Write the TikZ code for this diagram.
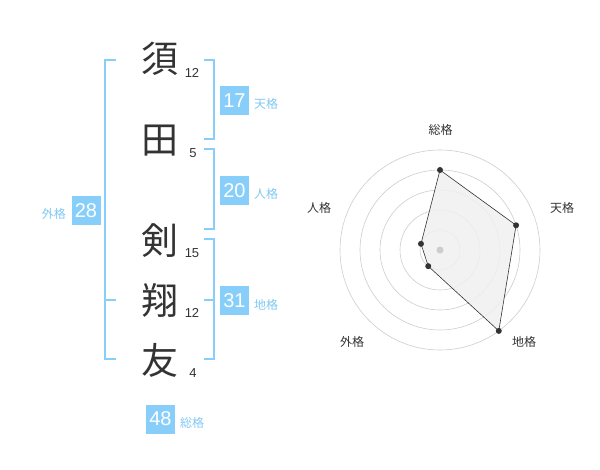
\documentclass[tikz,border=0pt]{standalone}
\usepackage{fontspec}
\setmainfont{Liberation Sans}
\newfontfamily\jpfont{Noto Sans CJK JP}
\definecolor{boxblue}{RGB}{136,206,250}
\definecolor{lblblue}{RGB}{128,200,244}
\definecolor{ink}{RGB}{51,51,51}
\definecolor{ringgray}{RGB}{205,205,205}
\definecolor{fillgray}{RGB}{240,240,240}
\begin{document}
\begin{tikzpicture}[x=1pt,y=-1pt,
  kanji/.style={font=\jpfont\fontsize{37}{37}\selectfont, text=ink, inner sep=0pt},
  strokes/.style={font=\fontsize{13}{13}\selectfont, text=ink, inner sep=0pt},
  numbox/.style={fill=boxblue, text=white, minimum width=29pt, minimum height=29pt, inner sep=0pt, font=\fontsize{20}{20}\selectfont},
  kaku/.style={font=\jpfont\fontsize{12}{12}\selectfont, text=lblblue, inner sep=0pt},
  brk/.style={draw=boxblue, line width=2pt},
  ring/.style={draw=ringgray, line width=0.6pt},
  axlbl/.style={font=\jpfont\fontsize{12}{12}\selectfont, text=ink, inner sep=0pt},
  vdot/.style={circle, fill=ink, inner sep=0pt, minimum size=6pt}
]
\useasboundingbox (0,0) rectangle (600,470);
% characters
\node[kanji] (k1) at (160,59) {須};
\node[kanji] (k2) at (160,141) {田};
\node[kanji] (k3) at (160,241) {剣};
\node[kanji] (k4) at (160,300) {翔};
\node[kanji] (k5) at (160,360) {友};
\node[strokes] (s1) at (192,73) {12};
\node[strokes] (s2) at (193,153) {5};
\node[strokes] (s3) at (192,253) {15};
\node[strokes] (s4) at (192,313) {12};
\node[strokes] (s5) at (193,373) {4};
% outer bracket
\draw[brk] (116,60) -- (105,60) -- (105,359) -- (116,359);
\draw[brk] (105,300) -- (116,300);
% right brackets
\draw[brk] (204,60) -- (214,60) -- (214,139) -- (204,139);
\draw[brk] (204,149) -- (214,149) -- (214,229) -- (204,229);
\draw[brk] (204,239) -- (214,239) -- (214,359) -- (204,359);
\draw[brk] (204,300) -- (214,300);
% boxes
\node[numbox] (b17) at (234.5,100.5) {17};
\node[kaku, anchor=west] (l17) at (254,104) {天格};
\node[numbox] (b20) at (234.5,190.5) {20};
\node[kaku, anchor=west] (l20) at (254,194) {人格};
\node[numbox] (b31) at (234.5,300.5) {31};
\node[kaku, anchor=west] (l31) at (254,305) {地格};
\node[numbox] (b28) at (86,210.5) {28};
\node[kaku, anchor=east] (l28) at (66,214) {外格};
\node[numbox] (b48) at (160.5,419) {48};
\node[kaku, anchor=west] (l48) at (180,423) {総格};
% radar
\coordinate (c) at (440,250);
\foreach \r in {20,40,60,80,100} \draw[ring] (c) circle[radius=\r];
\path (c) ++(0,-80) coordinate (p1);
\path (c) ++({80*cos(18)},{-80*sin(18)}) coordinate (p2);
\path (c) ++({100*cos(-54)},{-100*sin(-54)}) coordinate (p3);
\path (c) ++({20*cos(234)},{-20*sin(234)}) coordinate (p4);
\path (c) ++({20*cos(162)},{-20*sin(162)}) coordinate (p5);
\draw[fill=fillgray, fill opacity=0.85, draw=ink, line width=0.6pt] (p1) -- (p2) -- (p3) -- (p4) -- (p5) -- cycle;
\node[circle, fill=ringgray, inner sep=0pt, minimum size=7pt] (cd) at (c) {};
\foreach \i in {1,...,5} \node[vdot] (v\i) at (p\i) {};
\node[axlbl] (a1) at (440.5,130) {総格};
\node[axlbl] (a2) at (562,208) {天格};
\node[axlbl] (a3) at (524,342) {地格};
\node[axlbl] (a4) at (352,342) {外格};
\node[axlbl] (a5) at (319,208) {人格};
\end{tikzpicture}
\end{document}
